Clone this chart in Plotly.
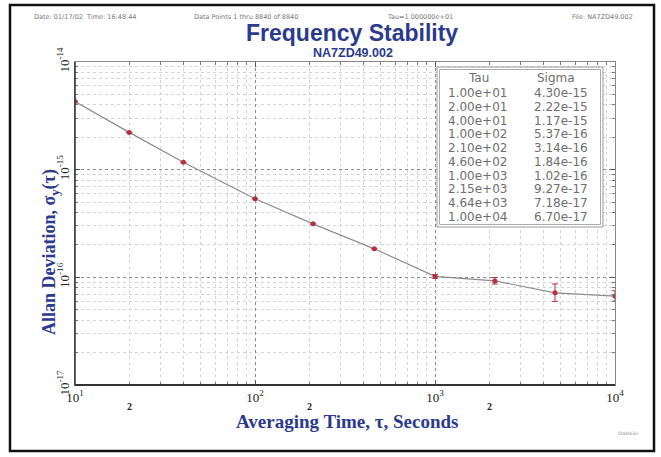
import math
import plotly.graph_objects as go

# ---- data ----
tau = [10, 20, 40, 100, 210, 460, 1000, 2150, 4640, 10000]
sigma = [4.30e-15, 2.22e-15, 1.17e-15, 5.37e-16, 3.14e-16, 1.84e-16,
         1.02e-16, 9.27e-17, 7.18e-17, 6.70e-17]
err_plus = [0, 0, 0, 0, 0, 0, 4e-18, 7e-18, 1.5e-17, 8e-18]
err_minus = [0, 0, 0, 0, 0, 0, 4e-18, 6e-18, 1.2e-17, 7e-18]

x_decades = [10, 100, 1000, 10000]
x_decade_labels = ["10<sup>1</sup>", "10<sup>2</sup>", "10<sup>3</sup>", "10<sup>4</sup>"]
x_two_ticks = [20, 200, 2000]
y_decades = [1e-17, 1e-16, 1e-15, 1e-14]
y_decade_labels = ["10<sup>-17</sup>", "10<sup>-16</sup>", "10<sup>-15</sup>", "10<sup>-14</sup>"]

header_left = "Date: 01/17/02  Time: 16:48:44"
header_mid = "Data Points 1 thru 8840 of 8840"
header_tau = "Tau=1.000000e+01"
header_file = "File: NA7ZD49.002"

W, H = 661, 457
L, R, T, B = 75, 615, 62, 385


def px(x):
    return (x - L) / (R - L)


def py(y):
    return (B - y) / (B - T)


minor_x = [m * d for d in [10, 100, 1000] for m in range(2, 10)]
minor_y = [m * d for d in [1e-17, 1e-16, 1e-15] for m in range(2, 10)]

blue = "#2b3a8c"
serif = "Liberation Serif, Times New Roman, serif"

fig = go.Figure()
fig.add_trace(go.Scatter(
    x=tau, y=sigma, mode="lines+markers",
    line=dict(color="#8c8c8c", width=1.2),
    marker=dict(color="#b8303c", size=5),
    error_y=dict(type="data", array=err_plus, arrayminus=err_minus,
                 color="#b8303c", thickness=1, width=3, symmetric=False),
    showlegend=False, hoverinfo="x+y"))

hdr_font = dict(family="DejaVu Sans", size=6.5, color="#777")
annotations = [
    dict(x=px(32), y=py(17), text=header_left, xanchor="left"),
    dict(x=px(192), y=py(17), text=header_mid, xanchor="left"),
    dict(x=px(385), y=py(17), text=header_tau, xanchor="left"),
    dict(x=px(635), y=py(17), text=header_file, xanchor="right"),
]
for a in annotations:
    a.update(xref="paper", yref="paper", showarrow=False, yanchor="middle", font=hdr_font)

annotations.append(dict(x=px(352), y=py(33), xref="paper", yref="paper",
                        text="<b>Frequency Stability</b>", showarrow=False,
                        font=dict(family="Liberation Sans, Arial", size=23, color=blue),
                        xanchor="center", yanchor="middle"))
annotations.append(dict(x=px(353), y=py(53), xref="paper", yref="paper",
                        text="<b>NA7ZD49.002</b>", showarrow=False,
                        font=dict(family="Liberation Sans, Arial", size=12.5, color=blue),
                        xanchor="center", yanchor="middle"))
# axis titles
annotations.append(dict(x=px(347), y=py(421), xref="paper", yref="paper",
                        text="<b>Averaging Time, \u03c4, Seconds</b>", showarrow=False,
                        font=dict(family=serif, size=19, color=blue),
                        xanchor="center", yanchor="middle"))
annotations.append(dict(x=px(50), y=py(252), xref="paper", yref="paper",
                        text="<b>Allan Deviation, \u03c3<sub>y</sub>(\u03c4)</b>",
                        showarrow=False, textangle=-90,
                        font=dict(family=serif, size=18, color=blue),
                        xanchor="center", yanchor="middle"))
# "2" labels on x axis
for v in x_two_ticks:
    annotations.append(dict(x=math.log10(v), y=py(407), xref="x", yref="paper",
                            text="<b>2</b>", showarrow=False,
                            font=dict(family=serif, size=10, color="#222"),
                            xanchor="center", yanchor="middle"))
# table
tab_font = dict(family="DejaVu Sans", size=12, color="#6e6e6e")
annotations.append(dict(x=px(478), y=py(78), xref="paper", yref="paper", text="Tau",
                        showarrow=False, font=tab_font, xanchor="center", yanchor="middle"))
annotations.append(dict(x=px(556), y=py(78), xref="paper", yref="paper", text="Sigma",
                        showarrow=False, font=tab_font, xanchor="center", yanchor="middle"))
for i, (t, s) in enumerate(zip(tau, sigma)):
    yy = py(93 + 13.75 * i)
    annotations.append(dict(x=px(477), y=yy, xref="paper", yref="paper",
                            text="%.2e" % t, showarrow=False, font=tab_font,
                            xanchor="center", yanchor="middle"))
    annotations.append(dict(x=px(561), y=yy, xref="paper", yref="paper",
                            text="%.2e" % s, showarrow=False, font=tab_font,
                            xanchor="center", yanchor="middle"))
annotations.append(dict(x=px(640), y=py(433), xref="paper", yref="paper",
                        text="Stable32", showarrow=False,
                        font=dict(family="DejaVu Sans", size=4.5, color="#888"),
                        xanchor="right", yanchor="middle"))

shapes = [
    dict(type="rect", xref="paper", yref="paper", x0=px(437), x1=px(603),
         y0=py(67), y1=py(227), line=dict(color="#999", width=1), fillcolor="white"),
    dict(type="rect", xref="paper", yref="paper", x0=px(439.5), x1=px(600.5),
         y0=py(69.5), y1=py(224.5), line=dict(color="#aaa", width=1)),
    dict(type="rect", xref="paper", yref="paper", x0=px(10), x1=px(654),
         y0=py(5), y1=py(451), line=dict(color="#111", width=2.5), layer="below"),
    dict(type="line", xref="paper", yref="paper", x0=0, x1=1, y0=0, y1=0,
         line=dict(color="#333", width=1.8)),
    dict(type="line", xref="paper", yref="paper", x0=0, x1=0, y0=0, y1=1,
         line=dict(color="#333", width=1.5)),
]

fig.update_layout(
    width=W, height=H,
    margin=dict(l=L, r=W - R, t=T, b=H - B),
    paper_bgcolor="white", plot_bgcolor="white",
    annotations=annotations, shapes=shapes,
    xaxis=dict(type="log", range=[1, 4], tickvals=x_decades, ticktext=x_decade_labels,
               tickfont=dict(family=serif, size=13, color="#222"),
               showgrid=True, gridcolor="#888", griddash="dot", gridwidth=1,
               ticks="inside", ticklen=5, tickcolor="#555",
               minor=dict(tickvals=minor_x, showgrid=True, gridcolor="#d4d4d4",
                          griddash="dot", ticks="inside", ticklen=3, tickcolor="#777"),
               showline=True, linecolor="#888", linewidth=1, mirror="ticks",
               zeroline=False),
    yaxis=dict(type="log", range=[-17, -14], tickvals=y_decades, ticktext=y_decade_labels,
               tickangle=-90,
               tickfont=dict(family=serif, size=13, color="#222"),
               showgrid=True, gridcolor="#888", griddash="dot", gridwidth=1,
               ticks="inside", ticklen=5, tickcolor="#555",
               minor=dict(tickvals=minor_y, showgrid=True, gridcolor="#d4d4d4",
                          griddash="dot", ticks="inside", ticklen=3, tickcolor="#777"),
               showline=True, linecolor="#888", linewidth=1, mirror="ticks",
               zeroline=False),
)

fig.write_html("out.html", config={"displayModeBar": False},
               post_script="document.body.style.margin='0px';document.body.style.padding='0px';")
